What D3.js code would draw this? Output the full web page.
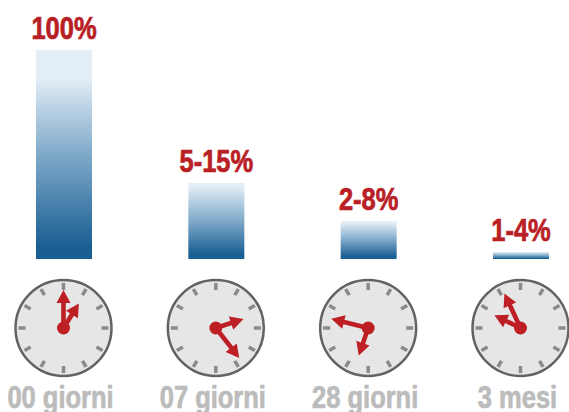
<!DOCTYPE html>
<html lang="it">

<head>
  <meta charset="UTF-8">
  <title>Ritenzione</title>
  <script src="https://d3js.org/d3.v7.min.js"></script>
  <style>
    body { margin: 0; background: #fff; }
    svg { display: block; }
    text {
      font-family: "Liberation Sans", sans-serif;
      font-weight: bold;
      font-size: 30px;
      text-anchor: middle;
      stroke-width: 0.7px;
    }
  </style>
</head>

<body>
  <div id="chart"></div>

  <script>
    // Data
    const periods = ["00 giorni", "07 giorni", "28 giorni", "3 mesi"];
    const percentLabels = ["100%", "5-15%", "2-8%", "1-4%"];
    // bar heights as drawn, the picture is not strictly to scale with the labels
    const barValues = [100, 36.4, 18.2, 3.4];
    // hand angles in degrees clockwise from 12
    const longHands = [0, 142, 284, 335];
    const shortHands = [32, 72, 199, 296];

    // Dimensions
    var width = 569;
    var height = 412;

    var svg = d3.select("#chart")
      .append("svg")
      .attr("width", width)
      .attr("height", height);

    var x = d3.scalePoint()
      .domain(periods)
      .range([64, 521]);

    var y = d3.scaleLinear()
      .domain([0, 100])
      .range([259, 50]);

    var barWidth = 56;
    var clockY = 328;
    var radius = 48;
    var narrow = 0.85; // no condensed font available, squeeze the bold one

    var angle = d3.scaleLinear()
      .domain([0, 360])
      .range([0, 2 * Math.PI]);

    // One gradient per bar so each fades over its own height
    var defs = svg.append("defs");
    periods.forEach(function (d, i) {
      var g = defs.append("linearGradient")
        .attr("id", "bar-" + i)
        .attr("x1", 0).attr("x2", 0)
        .attr("y1", 0).attr("y2", 1);
      g.append("stop").attr("offset", i == 0 ? "13%" : "4%").attr("stop-color", "#e3eef7");
      g.append("stop").attr("offset", "50%").attr("stop-color", "#7fa9c9");
      g.append("stop").attr("offset", "94%").attr("stop-color", "#1a5f93");
    });

    // Bars
    svg.append("g")
      .selectAll("rect")
      .data(periods)
      .enter()
      .append("rect")
      .attr("x", function (d) { return x(d) - barWidth / 2; })
      .attr("y", function (d, i) { return y(barValues[i]); })
      .attr("width", barWidth)
      .attr("height", function (d, i) { return y(0) - y(barValues[i]); })
      .style("fill", function (d, i) { return "url(#bar-" + i + ")"; });

    // Percent labels
    svg.append("g")
      .selectAll("text")
      .data(percentLabels)
      .enter()
      .append("text")
      .attr("transform", function (d, i) {
        return "translate(" + x(periods[i]) + "," + (y(barValues[i]) - 11) + ") scale(" + narrow + ",1.03)";
      })
      .style("fill", "#b92025")
      .style("stroke", "#b92025")
      .text(function (d) { return d; });

    // Clocks
    var clock = svg.append("g")
      .selectAll(".clock")
      .data(periods)
      .enter()
      .append("g")
      .attr("class", "clock")
      .attr("transform", function (d) { return "translate(" + (x(d) - 0.5) + "," + clockY + ")"; });

    clock.append("circle")
      .attr("r", radius)
      .style("fill", "#e6e6e6")
      .style("stroke", "#636363")
      .style("stroke-width", 2.5);

    clock.selectAll(".tick")
      .data(d3.range(0, 360, 30))
      .enter()
      .append("line")
      .attr("class", "tick")
      .attr("y1", -radius + 3)
      .attr("y2", -radius + 10)
      .attr("transform", function (d) { return "rotate(" + d + ")"; })
      .style("stroke", "#8a8a8a")
      .style("stroke-width", 3.5);

    // hand = shaft plus arrow head, drawn pointing up then rotated
    function hand(len) {
      var p = d3.path();
      p.moveTo(-2.3, 0);
      p.lineTo(-2.3, -len + 13);
      p.lineTo(-7, -len + 13);
      p.lineTo(0, -len);
      p.lineTo(7, -len + 13);
      p.lineTo(2.3, -len + 13);
      p.lineTo(2.3, 0);
      p.closePath();
      return p.toString();
    }

    [[longHands, 38], [shortHands, 29]].forEach(function (h) {
      clock.append("path")
        .attr("d", hand(h[1]))
        .attr("transform", function (d, i) {
          return "rotate(" + (angle(h[0][i]) * 180 / Math.PI) + ")";
        })
        .style("fill", "#bd1f25");
    });

    clock.append("circle")
      .attr("r", 6.5)
      .style("fill", "#bd1f25");

    // Period labels sit a little left of the clocks, the descender runs off
    // the bottom like in the original
    svg.append("g")
      .selectAll("text")
      .data(periods)
      .enter()
      .append("text")
      .attr("transform", function (d) {
        return "translate(" + (x(d) - 3.5) + ",408) scale(" + narrow + ",1.03)";
      })
      .style("fill", "#bcbcbc")
      .style("stroke", "#bcbcbc")
      .text(function (d) { return d; });
  </script>
</body>

</html>
